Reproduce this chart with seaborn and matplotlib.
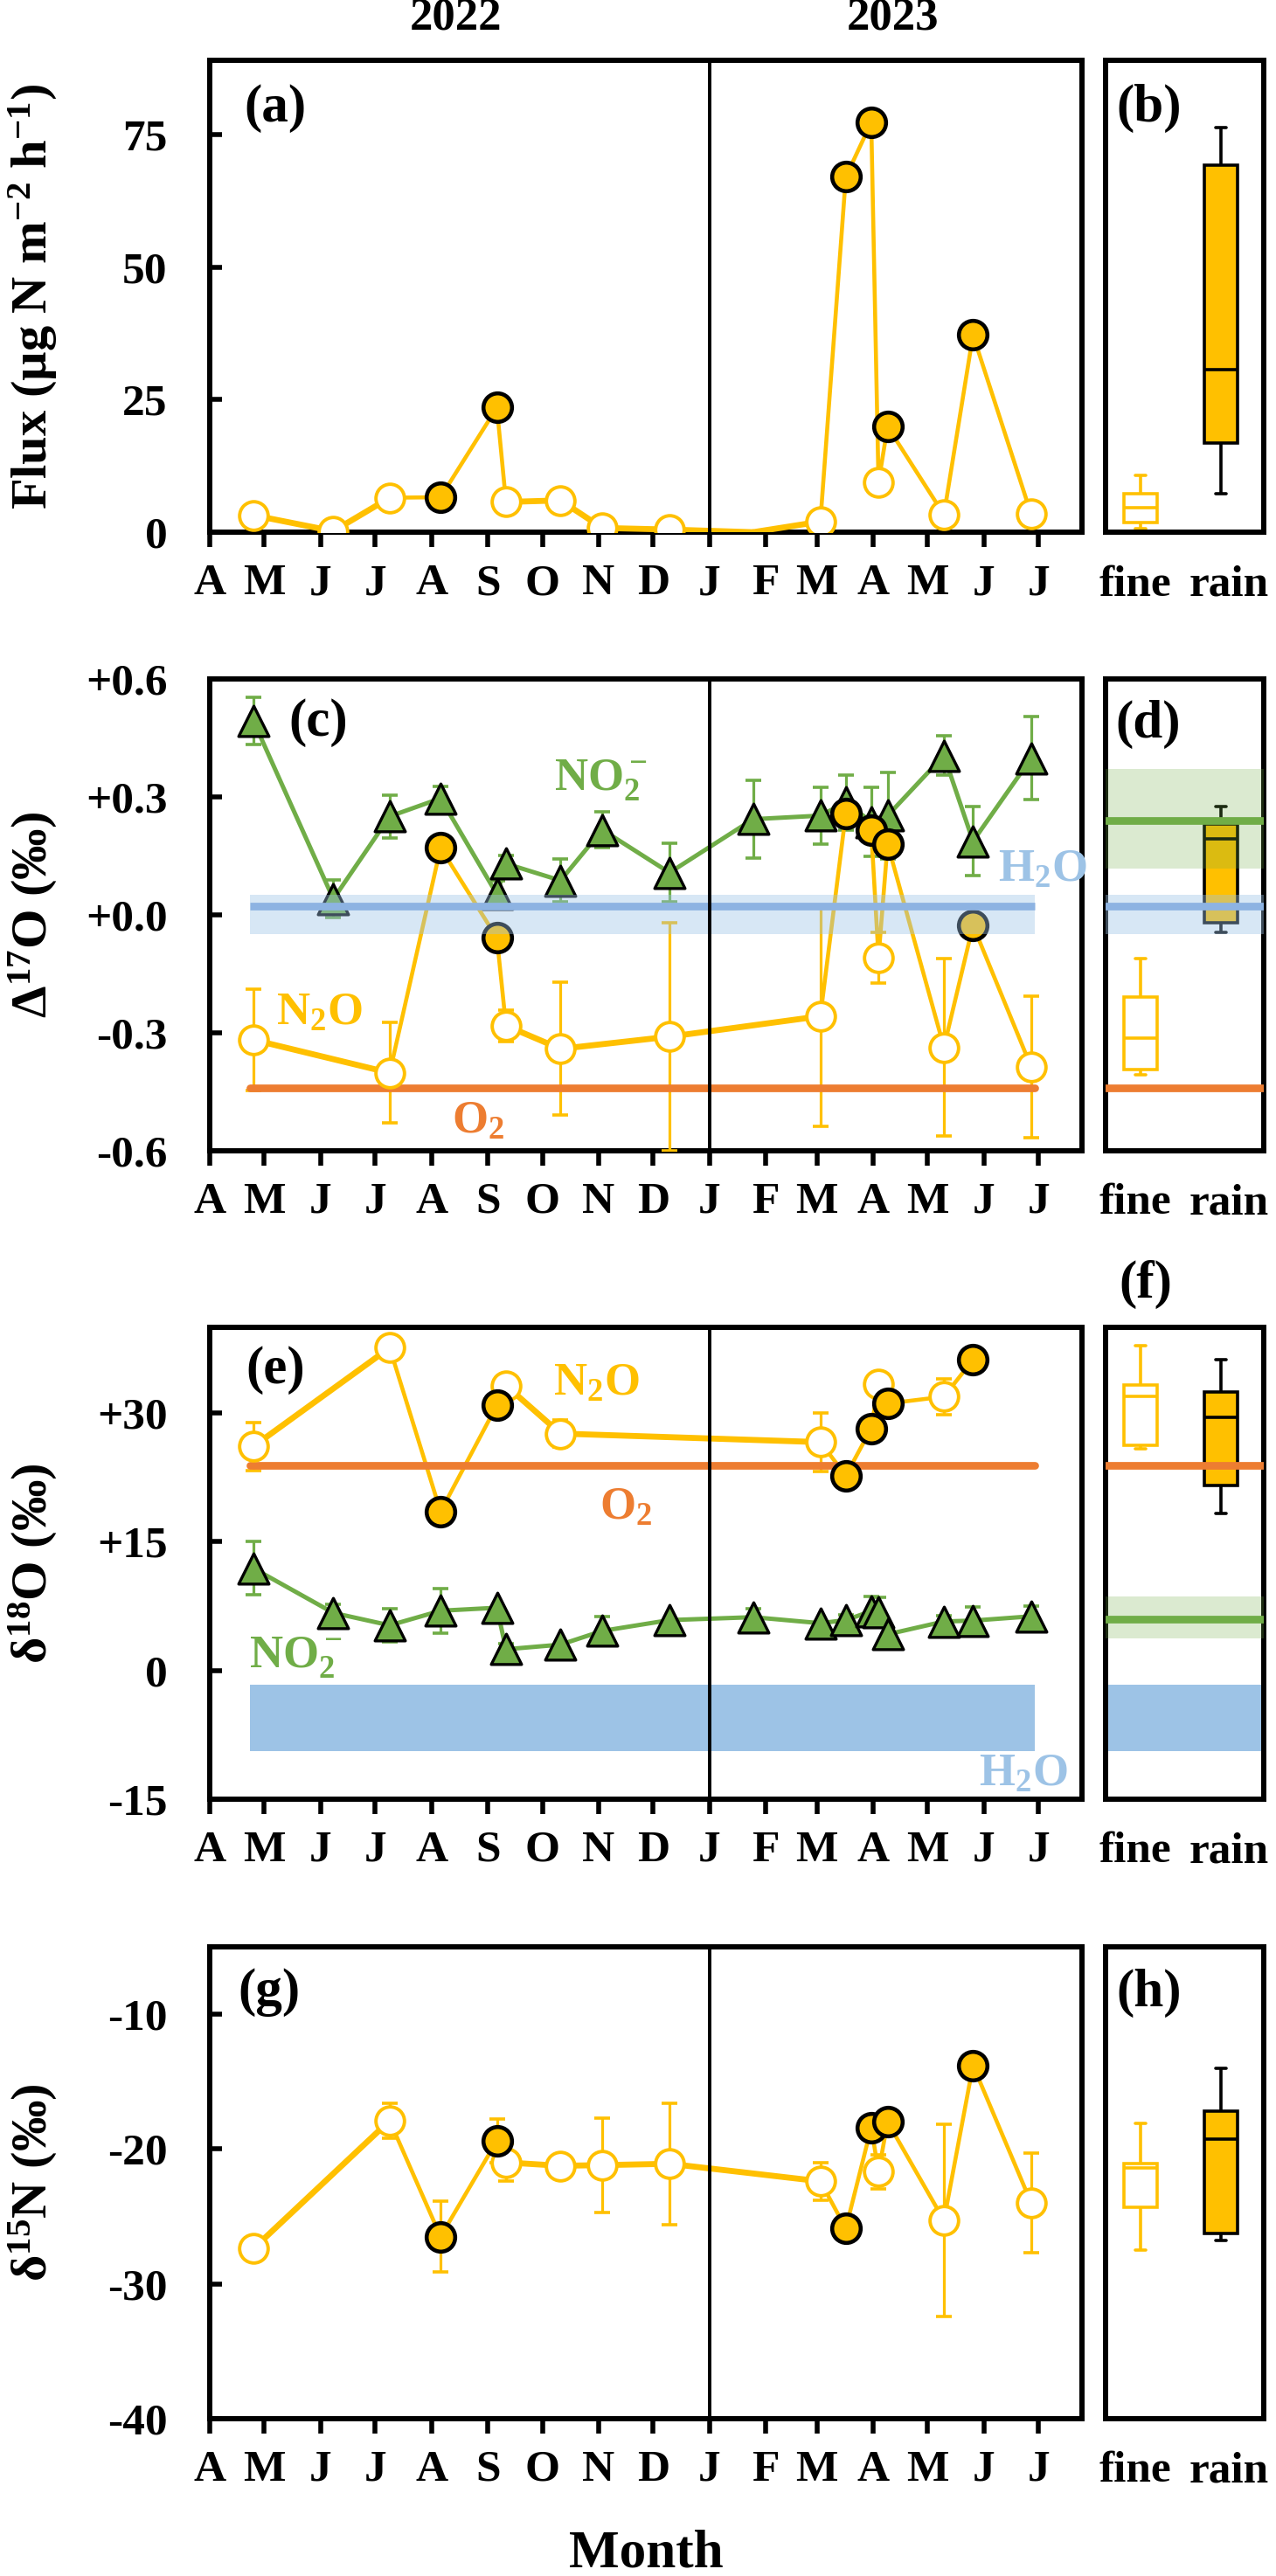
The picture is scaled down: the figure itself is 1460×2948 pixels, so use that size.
import numpy as np
import pandas as pd
import matplotlib
matplotlib.use('Agg')
import matplotlib.pyplot as plt
import matplotlib.dates as mdates
from matplotlib.ticker import FuncFormatter
import seaborn as sns

nan = np.nan

# sampling days; fine weather = open symbols, rain = filled symbols
dates = ['2022-04-25', '2022-06-08', '2022-07-09', '2022-08-06', '2022-09-06', '2022-09-11',
         '2022-10-11', '2022-11-03', '2022-12-10', '2023-01-25', '2023-03-03', '2023-03-17',
         '2023-03-31', '2023-04-04', '2023-04-09', '2023-05-10', '2023-05-26', '2023-06-27']
weather = ['fine', 'fine', 'fine', 'rain', 'rain', 'fine', 'fine', 'fine', 'fine', 'fine',
           'fine', 'rain', 'rain', 'fine', 'rain', 'fine', 'rain', 'fine']

# (a) N2O flux (ug N m-2 h-1); the January sample has no symbol
flux = [3.2, 0.2, 6.5, 6.6, 23.5, 5.7, 6.0, 0.8, 0.5, 0.0, 2.0, 67.0, 77.3, 9.4, 19.9, 3.3, 37.2, 3.4]
flux_symbol = [True] * 9 + [False] + [True] * 8

# (c) D17O (permil)
d17_n2o = [-0.318, nan, -0.402, 0.170, -0.059, -0.282, -0.341, nan, -0.310, nan,
           -0.258, 0.257, 0.215, -0.109, 0.180, -0.337, -0.027, -0.387]
d17_n2o_err = [0.128, nan, 0.128, nan, nan, 0.04, 0.169, nan, 0.29, nan,
               0.28, nan, nan, 0.064, nan, 0.225, nan, 0.18]
d17_no2 = [0.493, 0.040, 0.250, 0.296, 0.052, 0.130, 0.087, 0.216, 0.107, 0.243,
           0.252, 0.286, 0.236, nan, 0.252, 0.405, 0.187, 0.398]
d17_no2_err = [0.059, 0.048, 0.055, 0.03, 0.035, 0.02, 0.055, 0.045, 0.075, 0.099,
               0.073, 0.07, 0.088, nan, 0.11, 0.05, 0.088, 0.105]

# (e) d18O (permil)
d18_n2o = [26.1, nan, 37.6, 18.5, 30.9, 33.2, 27.6, nan, nan, nan,
           26.6, 22.7, 28.2, 33.4, 31.1, 31.9, 36.2, nan]
d18_n2o_err = [2.8, nan, nan, nan, nan, nan, 1.6, nan, nan, nan,
               3.4, nan, nan, nan, nan, 2.1, nan, nan]
d18_no2 = [11.9, 6.7, 5.25, 6.95, 7.3, 2.46, 3.0, 4.6, 5.86, 6.2,
           5.5, 5.86, 6.9, 6.8, 4.2, 5.7, 5.8, 6.3]
d18_no2_err = [3.1, 1.0, 1.9, 2.6, nan, 0.7, nan, 1.7, nan, 1.0,
               nan, 0.6, 1.7, 1.7, nan, 0.7, 1.6, 1.2]

# (g) d15N (permil)
d15_n2o = [-27.4, nan, -17.9, -26.5, -19.4, -21.0, -21.25, -21.2, -21.1, nan,
           -22.4, -25.9, -18.4, -21.7, -18.0, -25.3, -13.8, -24.0]
d15_n2o_err = [nan, nan, 1.3, 2.6, 1.6, 1.4, nan, 3.5, 4.5, nan,
               1.4, nan, nan, 1.25, nan, 7.1, nan, 3.7]

# box panels: whisker low, Q1, median, Q3, whisker high
flux_fine_box = [0.6, 1.9, 4.7, 7.2, 10.8]
flux_rain_box = [7.2, 16.9, 30.6, 69.2, 76.3]
d17_fine_box = [-0.406, -0.393, -0.314, -0.21, -0.112]
d17_rain_box = [-0.044, -0.02, 0.194, 0.23, 0.276]
d18_fine_box = [25.8, 26.2, 31.9, 33.3, 37.8]
d18_rain_box = [18.3, 21.5, 29.5, 32.4, 36.2]
d15_fine_box = [-27.5, -24.3, -21.4, -21.1, -18.1]
d15_rain_box = [-26.8, -26.3, -19.3, -17.2, -14.0]

# end-member references
o2_d17 = -0.44
h2o_d17 = 0.021
h2o_d17_range = [-0.049, 0.05]
no2_d17_mean = 0.24
no2_d17_range = [0.118, 0.371]
o2_d18 = 23.9
h2o_d18_range = [-9.4, -1.7]
no2_d18_mean = 6.0
no2_d18_range = [3.7, 8.6]

YEL = '#FFC000'
GRN = '#70AD47'
ORG = '#ED7D31'
BLU = '#9DC3E6'
BLU_LINE = '#8DB3E2'

sns.set_style('ticks')
plt.rcParams['font.family'] = ['Liberation Serif', 'DejaVu Serif']
plt.rcParams['font.weight'] = 'bold'
plt.rcParams['mathtext.fontset'] = 'custom'
plt.rcParams['mathtext.rm'] = 'Liberation Serif:bold'
plt.rcParams['mathtext.it'] = 'Liberation Serif:italic:bold'
plt.rcParams['mathtext.bf'] = 'Liberation Serif:bold'
for k in ['text.color', 'axes.labelcolor', 'xtick.color', 'ytick.color', 'axes.edgecolor']:
    plt.rcParams[k] = 'black'

t = pd.to_datetime(pd.Series(dates))
t_start, t_end = pd.Timestamp('2022-04-01'), pd.Timestamp('2023-07-25')
new_year = pd.Timestamp('2023-01-01')
span = [t.iloc[0] - pd.Timedelta(days=2), t.iloc[-1] + pd.Timedelta(days=2)]

fig = plt.figure(figsize=(14.6, 29.48), dpi=100)
bottoms = [0.7934, 0.5533, 0.3016, 0.0611]
H = 0.1832
axm = [fig.add_axes([0.1644, b, 0.6836, H]) for b in bottoms]
axb = [fig.add_axes([0.8664, b, 0.1240, H]) for b in bottoms]


def frame(ax):
    for s in ax.spines.values():
        s.set_visible(True)
        s.set_linewidth(4.3)
        s.set_color('black')


def n2o_series(ax, vals, errs=None, shown=None):
    df = pd.DataFrame({'date': t, 'val': vals, 'weather': weather})
    df['err'] = errs if errs is not None else nan
    df['shown'] = shown if shown is not None else True
    d = df.dropna(subset=['val']).reset_index(drop=True)
    sns.lineplot(data=d, x='date', y='val', color=YEL, linewidth=3.3, sort=False,
                 estimator=None, ax=ax, zorder=4)
    # fine-to-fine stretches are drawn heavier
    for i in range(len(d) - 1):
        if d.weather[i] == 'fine' and d.weather[i + 1] == 'fine':
            ax.plot(d.date[i:i + 2], d.val[i:i + 2], color=YEL, lw=4.9,
                    solid_capstyle='round', zorder=4)
    e = d.dropna(subset=['err'])
    if len(e):
        ax.errorbar(e.date, e.val, yerr=e.err, fmt='none', ecolor=YEL, elinewidth=2.3,
                    capsize=6.5, capthick=2.6, zorder=4)
    m = d[d.shown]
    sns.scatterplot(data=m[m.weather == 'fine'], x='date', y='val', marker='o', s=23.5 ** 2,
                    color='white', edgecolor=YEL, linewidth=2.8, zorder=6, legend=False, ax=ax)
    sns.scatterplot(data=m[m.weather == 'rain'], x='date', y='val', marker='o', s=23.5 ** 2,
                    color=YEL, edgecolor='black', linewidth=3.3, zorder=6, legend=False, ax=ax)


def no2_series(ax, vals, errs):
    d = pd.DataFrame({'date': t, 'val': vals, 'err': errs}).dropna(subset=['val'])
    sns.lineplot(data=d, x='date', y='val', color=GRN, linewidth=3.6, sort=False,
                 estimator=None, ax=ax, zorder=3)
    e = d.dropna(subset=['err'])
    ax.errorbar(e.date, e.val, yerr=e.err, fmt='none', ecolor=GRN, elinewidth=2.3,
                capsize=6.5, capthick=2.6, zorder=3)
    sns.scatterplot(data=d, x='date', y='val', marker='^', s=25 ** 2, color=GRN,
                    edgecolor='black', linewidth=2.4, zorder=3.5, legend=False, ax=ax)


def style_main(ax, ylim, yticks, ylabels):
    ax.set_xlim(t_start, t_end)
    ax.set_ylim(*ylim)
    ax.set_yticks(yticks, ylabels)
    ax.xaxis.set_major_locator(mdates.MonthLocator())
    ax.xaxis.set_major_formatter(
        FuncFormatter(lambda v, p: mdates.num2date(v).strftime('%b')[0]))
    ax.tick_params(axis='x', direction='out', length=12, width=4, pad=14, labelsize=37,
                   bottom=True, top=False)
    ax.tick_params(axis='y', direction='in', length=10, width=4, pad=35, labelsize=37,
                   left=True, right=False)
    ax.set_xlabel('')
    ax.set_ylabel('')
    ax.axvline(new_year, color='black', lw=2.8, zorder=9)
    frame(ax)


def box_panel(ax, fine_vals, rain_vals, ylim):
    sns.boxplot(x=['fine'] * len(fine_vals), y=fine_vals, order=['fine', 'rain'],
                color='white', linecolor=YEL, linewidth=2.6, width=0.42, whis=np.inf,
                saturation=1, capwidths=0.13, ax=ax)
    sns.boxplot(x=['rain'] * len(rain_vals), y=rain_vals, order=['fine', 'rain'],
                color=YEL, linecolor='black', linewidth=2.6, width=0.42, whis=np.inf,
                saturation=1, capwidths=0.13, ax=ax)
    ax.set_xlim(-0.435, 1.533)
    ax.set_ylim(*ylim)
    ax.set_yticks([])
    # category names sit slightly apart from the box centres
    ax.set_xticks([-0.07, 1.1], ['fine', 'rain'])
    ax.tick_params(axis='x', length=0, pad=27, labelsize=37, bottom=True)
    ax.set_xlabel('')
    ax.set_ylabel('')
    frame(ax)


def tag(ax, x, y, s):
    ax.text(x, y, s, transform=ax.transAxes, fontsize=44, ha='left', va='center')


def species(ax, x, y, s, c):
    ax.text(x, y, s, transform=ax.transAxes, fontsize=38, color=c, ha='left',
            va='baseline', zorder=10)


# ---- (a) flux
ax = axm[0]
n2o_series(ax, flux, shown=flux_symbol)
style_main(ax, (0, 89), [0, 25, 50, 75], ['0', '25', '50', '75'])
tag(ax, 0.039, 0.898, '(a)')
box_panel(axb[0], flux_fine_box, flux_rain_box, (0, 89))
tag(axb[0], 0.066, 0.898, '(b)')

# ---- (c) D17O
ax = axm[1]
no2_series(ax, d17_no2, d17_no2_err)
n2o_series(ax, d17_n2o, d17_n2o_err)
ax.fill_between(span, *h2o_d17_range, color=BLU, alpha=0.4, lw=0, zorder=8)
ax.plot(span, [h2o_d17] * 2, color=BLU_LINE, lw=6.3, solid_capstyle='butt', zorder=8.5)
ax.plot(span, [o2_d17] * 2, color=ORG, lw=6.3, solid_capstyle='round', zorder=5)
style_main(ax, (-0.6, 0.6), [-0.6, -0.3, 0.0, 0.3, 0.6],
           ['-0.6', '-0.3', '+0.0', '+0.3', '+0.6'])
tag(ax, 0.091, 0.907, '(c)')
species(ax, 0.395, 0.765, r'NO$_2^-$', GRN)
species(ax, 0.904, 0.570, r'H$_2$O', BLU)
species(ax, 0.076, 0.267, r'N$_2$O', YEL)
species(ax, 0.278, 0.038, r'O$_2$', ORG)
b = axb[1]
box_panel(b, d17_fine_box, d17_rain_box, (-0.6, 0.6))
b.axhspan(*no2_d17_range, color=GRN, alpha=0.25, lw=0, zorder=8)
b.axhline(no2_d17_mean, color=GRN, lw=6.3, zorder=8.5)
b.axhspan(*h2o_d17_range, color=BLU, alpha=0.4, lw=0, zorder=8)
b.axhline(h2o_d17, color=BLU_LINE, lw=6.3, zorder=8.5)
b.axhline(o2_d17, color=ORG, lw=6.3, zorder=8.5)
tag(b, 0.061, 0.904, '(d)')

# ---- (e) d18O
ax = axm[2]
ax.fill_between(span, *h2o_d18_range, color=BLU, lw=0, zorder=1)
ax.plot(span, [o2_d18] * 2, color=ORG, lw=6.3, solid_capstyle='round', zorder=5)
no2_series(ax, d18_no2, d18_no2_err)
n2o_series(ax, d18_n2o, d18_n2o_err)
style_main(ax, (-15, 40), [-15, 0, 15, 30], ['-15', '0', '+15', '+30'])
tag(ax, 0.041, 0.909, '(e)')
species(ax, 0.394, 0.855, r'N$_2$O', YEL)
species(ax, 0.447, 0.593, r'O$_2$', ORG)
species(ax, 0.045, 0.280, r'NO$_2^-$', GRN)
species(ax, 0.882, 0.028, r'H$_2$O', BLU)
b = axb[2]
box_panel(b, d18_fine_box, d18_rain_box, (-15, 40))
b.axhspan(*h2o_d18_range, color=BLU, lw=0, zorder=1)
b.axhspan(*no2_d18_range, color=GRN, alpha=0.25, lw=0, zorder=8)
b.axhline(no2_d18_mean, color=GRN, lw=6.3, zorder=8.5)
b.axhline(o2_d18, color=ORG, lw=6.3, zorder=8.5)
tag(b, 0.083, 1.091, '(f)')

# ---- (g) d15N
ax = axm[3]
n2o_series(ax, d15_n2o, d15_n2o_err)
style_main(ax, (-40, -5), [-40, -30, -20, -10], ['-40', '-30', '-20', '-10'])
tag(ax, 0.032, 0.904, '(g)')
box_panel(axb[3], d15_fine_box, d15_rain_box, (-40, -5))
tag(axb[3], 0.066, 0.902, '(h)')

# ---- figure texts
ylabels = [r'Flux (µg N m$^{-2}$ h$^{-1}$)', r'Δ$^{17}$O (‰)', r'δ$^{18}$O (‰)',
           r'δ$^{15}$N (‰)']
for bt, lab in zip(bottoms, ylabels):
    fig.text(0.026, bt + H / 2, lab, rotation=90, fontsize=42, ha='center', va='center')
fig.text(0.3575, 0.9932, '2022', fontsize=38, ha='center', va='center')
fig.text(0.700, 0.9932, '2023', fontsize=38, ha='center', va='center')
fig.text(0.1644 + 0.6836 / 2, 0.0085, 'Month', fontsize=44, ha='center', va='center')

fig.savefig('out.png', dpi=100)
